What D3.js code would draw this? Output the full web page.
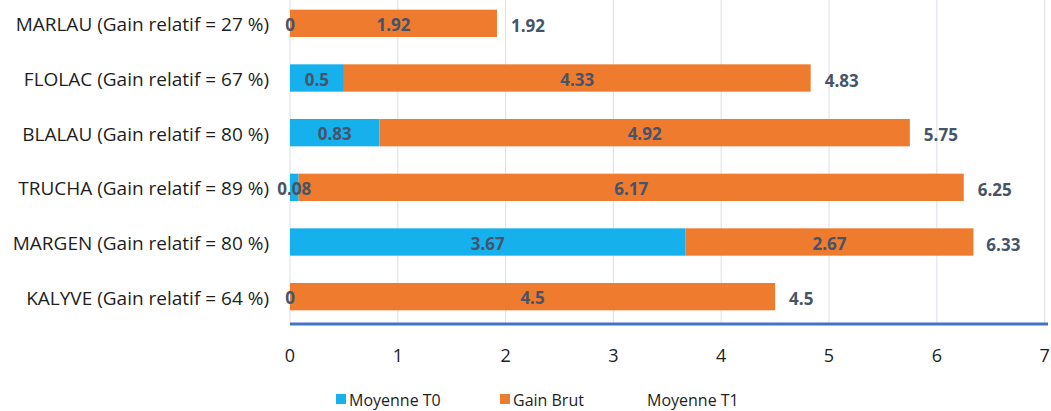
<!DOCTYPE html>
<html>
<head>
<meta charset="utf-8">
<script src="https://cdn.jsdelivr.net/npm/d3@7"></script>
<style>
  body { margin: 0; background: #fff; }
  text { font-family: "Open Sans", "Noto Sans", sans-serif; }
</style>
</head>
<body>
<script>
/* données */
var categories = ['MARLAU (Gain relatif = 27 %)', 'FLOLAC (Gain relatif = 67 %)', 'BLALAU (Gain relatif = 80 %)',
  'TRUCHA (Gain relatif = 89 %)', 'MARGEN (Gain relatif = 80 %)', 'KALYVE (Gain relatif = 64 %)'];
var moyenneT0 = [0, 0.5, 0.83, 0.08, 3.67, 0];
var gainBrut = [1.92, 4.33, 4.92, 6.17, 2.67, 4.5];
var moyenneT1 = [1.92, 4.83, 5.75, 6.25, 6.33, 4.5];
var xTicks = [0, 1, 2, 3, 4, 5, 6, 7];
var legendNames = ['Moyenne T0', 'Gain Brut', 'Moyenne T1'];

var W = 1051, H = 411;
var plotLeft = 290, plotRight = 1044.6, plotTop = -4, plotBottom = 324;

var svg = d3.select('body').append('svg')
  .attr('width', W)
  .attr('height', H);

var x = d3.scaleLinear().domain([0, 7]).range([plotLeft, plotRight]);
var y = d3.scaleBand().domain(categories).range([plotTop, plotBottom]).paddingInner(0.5).paddingOuter(0.25);

/* grille */
svg.append('g').selectAll('line').data(xTicks).enter().append('line')
  .attr('x1', function (d) { return x(d); })
  .attr('x2', function (d) { return x(d); })
  .attr('y1', 0).attr('y2', plotBottom)
  .attr('stroke', '#E3E3EC').attr('stroke-width', 1.2);

/* barres */
var rows = categories.map(function (c, i) {
  return { cat: c, t0: moyenneT0[i], gain: gainBrut[i], t1: moyenneT1[i] };
});

var g = svg.append('g');
g.selectAll('rect.t0').data(rows).enter().append('rect')
  .attr('class', 't0')
  .attr('x', x(0))
  .attr('y', function (d) { return y(d.cat); })
  .attr('width', function (d) { return x(d.t0) - x(0); })
  .attr('height', y.bandwidth())
  .attr('fill', '#16B0EC');

g.selectAll('rect.gain').data(rows).enter().append('rect')
  .attr('class', 'gain')
  .attr('x', function (d) { return x(d.t0); })
  .attr('y', function (d) { return y(d.cat); })
  .attr('width', function (d) { return x(d.t0 + d.gain) - x(d.t0); })
  .attr('height', y.bandwidth())
  .attr('fill', '#EE7B2E');

var labelColor = '#46546A';
function lbl(sel) {
  return sel.attr('fill', labelColor).attr('font-size', 17).attr('font-weight', 'bold')
    .attr('dominant-baseline', 'central');
}

lbl(g.selectAll('text.t0').data(rows).enter().append('text'))
  .attr('text-anchor', 'middle')
  .attr('x', function (d) { return (x(0) + x(d.t0)) / 2; })
  .attr('y', function (d) { return y(d.cat) + y.bandwidth() / 2 + 1; })
  .text(function (d) { return d.t0; });

lbl(g.selectAll('text.gain').data(rows).enter().append('text'))
  .attr('text-anchor', 'middle')
  .attr('x', function (d) { return (x(d.t0) + x(d.t0 + d.gain)) / 2; })
  .attr('y', function (d) { return y(d.cat) + y.bandwidth() / 2 + 1; })
  .text(function (d) { return d.gain; });

lbl(g.selectAll('text.t1').data(rows).enter().append('text'))
  .attr('text-anchor', 'start')
  .attr('x', function (d) { return x(d.t1) + 14; })
  .attr('y', function (d) { return y(d.cat) + y.bandwidth() / 2 + 2; })
  .text(function (d) { return d.t1; });

/* catégories */
svg.append('g').selectAll('text').data(categories).enter().append('text')
  .attr('x', 269)
  .attr('y', function (d) { return y(d) + y.bandwidth() / 2 + 1; })
  .attr('text-anchor', 'end')
  .attr('dominant-baseline', 'central')
  .attr('font-size', 19)
  .attr('fill', '#1E1E1E')
  .text(function (d) { return d; });

/* axe */
svg.append('line')
  .attr('x1', plotLeft).attr('x2', 1048)
  .attr('y1', plotBottom).attr('y2', plotBottom)
  .attr('stroke', '#4472C4').attr('stroke-width', 3);

svg.append('g').selectAll('text').data(xTicks).enter().append('text')
  .attr('x', function (d) { return x(d); })
  .attr('y', 355)
  .attr('text-anchor', 'middle')
  .attr('dominant-baseline', 'central')
  .attr('font-size', 18)
  .attr('fill', '#1E1E1E')
  .text(function (d) { return d; });

/* légende */
var legendX = [336, 500, 634];
var legendColors = ['#16B0EC', '#EE7B2E', null];
var leg = svg.append('g').selectAll('g').data(legendNames).enter().append('g')
  .attr('transform', function (d, i) { return 'translate(' + legendX[i] + ',399)'; });
leg.filter(function (d, i) { return legendColors[i]; }).append('rect')
  .attr('x', 0).attr('y', -5).attr('width', 10).attr('height', 10)
  .attr('fill', function (d) { return legendColors[legendNames.indexOf(d)]; });
leg.append('text')
  .attr('x', 13).attr('y', 1)
  .attr('dominant-baseline', 'central')
  .attr('font-size', 16)
  .attr('fill', '#1E1E1E')
  .text(function (d) { return d; });
</script>
</body>
</html>
